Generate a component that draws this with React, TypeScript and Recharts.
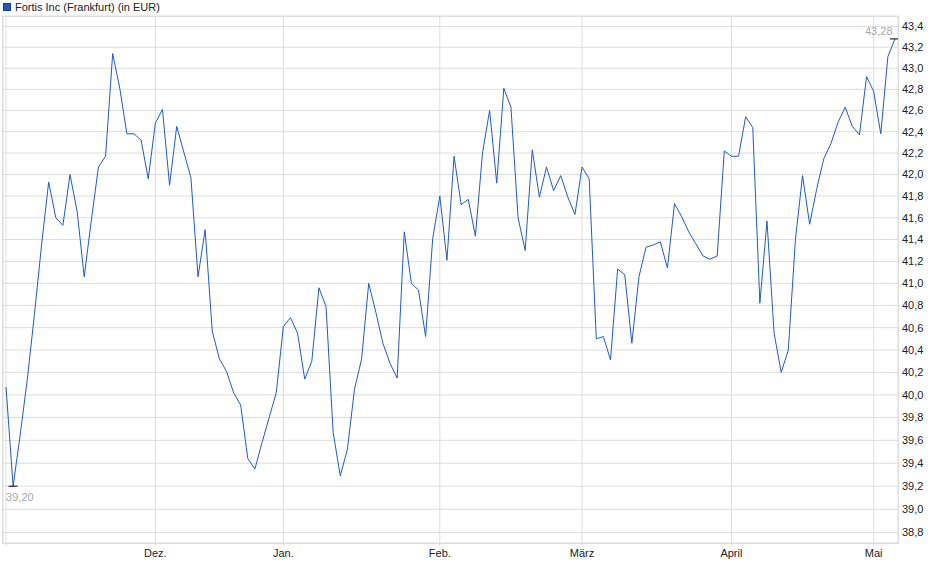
import React from 'react';
import { LineChart, Line, XAxis, YAxis, CartesianGrid } from 'recharts';

// Frankfurt trading days per month and the closing prices
const novDays = [1, 4, 5, 6, 7, 8, 11, 12, 13, 14, 15, 18, 19, 20, 21, 22, 25, 26, 27, 28, 29];
const novClose = [
  40.07, 39.2, 39.65, 40.14, 40.72, 41.35, 41.93, 41.6, 41.53, 42.0, 41.66,
  41.06, 41.58, 42.07, 42.17, 43.14, 42.81, 42.38, 42.38, 42.32, 41.96,
];

const decDays = [2, 3, 4, 5, 6, 9, 10, 11, 12, 13, 16, 17, 18, 19, 20, 23, 27, 30];
const decClose = [
  42.48, 42.61, 41.9, 42.45, 42.21, 41.97, 41.06, 41.49, 40.57, 40.32, 40.21,
  40.02, 39.91, 39.44, 39.35, 39.58, 39.8, 40.02,
];

const janDays = [2, 3, 6, 7, 8, 9, 10, 13, 14, 15, 16, 17, 20, 21, 22, 23, 24, 27, 28, 29, 30, 31];
const janClose = [
  40.61, 40.69, 40.55, 40.14, 40.3, 40.96, 40.79, 39.67, 39.29, 39.52, 40.05,
  40.32, 41.0, 40.74, 40.46, 40.28, 40.15, 41.47, 41.0, 40.94, 40.52, 41.41,
];

const febDays = [3, 4, 5, 6, 7, 10, 11, 12, 13, 14, 17, 18, 19, 20, 21, 24, 25, 26, 27, 28];
const febClose = [
  41.8, 41.21, 42.17, 41.72, 41.77, 41.43, 42.2, 42.6, 41.92, 42.81, 42.63,
  41.6, 41.3, 42.23, 41.79, 42.07, 41.85, 41.99, 41.79, 41.63,
];

const marDays = [3, 4, 5, 6, 7, 10, 11, 12, 13, 14, 17, 18, 19, 20, 21, 24, 25, 26, 27, 28, 31];
const marClose = [
  42.07, 41.96, 40.5, 40.52, 40.31, 41.13, 41.08, 40.46, 41.06, 41.33, 41.35,
  41.38, 41.14, 41.73, 41.61, 41.47, 41.36, 41.25, 41.22, 41.25, 42.22,
];

const aprDays = [1, 2, 3, 4, 7, 8, 9, 10, 11, 14, 15, 16, 17, 22, 23, 24, 25, 28, 29, 30];
const aprClose = [
  42.17, 42.17, 42.54, 42.44, 40.82, 41.57, 40.55, 40.2, 40.4, 41.4, 41.99,
  41.54, 41.87, 42.15, 42.29, 42.49, 42.63, 42.45, 42.37, 42.92,
];

const mayDays = [2, 5, 6, 7];
const mayClose = [42.78, 42.38, 43.11, 43.28];

const months = [
  { key: '2024-11', label: '', days: novDays, close: novClose },
  { key: '2024-12', label: 'Dez.', days: decDays, close: decClose },
  { key: '2025-01', label: 'Jan.', days: janDays, close: janClose },
  { key: '2025-02', label: 'Feb.', days: febDays, close: febClose },
  { key: '2025-03', label: 'März', days: marDays, close: marClose },
  { key: '2025-04', label: 'April', days: aprDays, close: aprClose },
  { key: '2025-05', label: 'Mai', days: mayDays, close: mayClose },
];

const yTicks = [
  38.8, 39.0, 39.2, 39.4, 39.6, 39.8, 40.0, 40.2, 40.4, 40.6, 40.8, 41.0,
  41.2, 41.4, 41.6, 41.8, 42.0, 42.2, 42.4, 42.6, 42.8, 43.0, 43.2, 43.4,
];

const data = months.flatMap((m) =>
  m.days.map((d, i) => ({
    date: `${m.key}-${String(d).padStart(2, '0')}`,
    close: m.close[i],
  }))
);

const monthTicks = months.map((m) => `${m.key}-${String(m.days[0]).padStart(2, '0')}`);
const monthLabel = (date: string) => months.find((m) => date.startsWith(m.key))?.label ?? '';

const closes = data.map((d) => d.close);
const minIndex = closes.indexOf(Math.min(...closes));
const maxIndex = closes.indexOf(Math.max(...closes));
const fmt = (v: number, digits: number) => v.toFixed(digits).replace('.', ',');

const LINE_COLOR = '#1f5bc6';
const GRID_COLOR = '#dddddd';

const renderMarker = (props: any) => {
  const { cx, cy, index } = props;
  if (index === minIndex) {
    return (
      <g key="min">
        <line x1={cx - 4.5} x2={cx + 4.5} y1={cy} y2={cy} stroke="#000" strokeWidth={1} />
        <text x={cx - 7} y={cy + 14.5} fill="#a8a8a8" fontSize={11}>
          {fmt(closes[index], 2)}
        </text>
      </g>
    );
  }
  if (index === maxIndex) {
    return (
      <g key="max">
        <line x1={cx - 5} x2={cx + 4} y1={cy} y2={cy} stroke="#000" strokeWidth={1} />
        <text x={cx - 2.5} y={cy - 3.5} fill="#a8a8a8" fontSize={11} textAnchor="end">
          {fmt(closes[index], 2)}
        </text>
      </g>
    );
  }
  return <g key={`d${index}`} />;
};

export default function App() {
  return (
    <div
      style={{
        position: 'absolute',
        left: 0,
        top: 0,
        width: 940,
        height: 579,
        background: '#fff',
        fontFamily: '"Liberation Sans", Arial, sans-serif',
      }}
    >
      <div
        style={{
          position: 'absolute',
          left: 3,
          top: 0,
          fontSize: 11,
          color: '#222',
          display: 'flex',
          alignItems: 'center',
          height: 13,
        }}
      >
        <span
          style={{
            display: 'inline-block',
            width: 6,
            height: 6,
            background: LINE_COLOR,
            border: '1px solid #1b3f8a',
            marginRight: 4,
          }}
        />
        Fortis Inc (Frankfurt) (in EUR)
      </div>
      <LineChart width={940} height={579} data={data} margin={{ top: 16, right: 0, bottom: 0, left: 3 }}>
        <CartesianGrid stroke={GRID_COLOR} />
        <XAxis
          dataKey="date"
          ticks={monthTicks}
          interval={0}
          tickFormatter={monthLabel}
          padding={{ left: 3, right: 3 }}
          height={36}
          axisLine={false}
          tickSize={3}
          tickMargin={3}
          tickLine={{ stroke: GRID_COLOR }}
          tick={{ fill: '#222', fontSize: 11 }}
        />
        <YAxis
          orientation="right"
          scale="log"
          domain={[38.71, 43.5]}
          allowDataOverflow
          ticks={yTicks}
          interval={0}
          tickFormatter={(v: number) => fmt(v, 1)}
          width={42}
          axisLine={false}
          tickLine={false}
          tickSize={0}
          tickMargin={4}
          tick={{ fill: '#222', fontSize: 11, textAnchor: 'start' }}
        />
        <Line
          type="linear"
          dataKey="close"
          stroke={LINE_COLOR}
          strokeWidth={1}
          dot={renderMarker}
          activeDot={false}
          isAnimationActive={false}
        />
      </LineChart>
      <div
        style={{
          position: 'absolute',
          left: 2,
          top: 16,
          width: 897,
          height: 528,
          boxSizing: 'border-box',
          border: `1px solid ${GRID_COLOR}`,
          pointerEvents: 'none',
        }}
      />
    </div>
  );
}
